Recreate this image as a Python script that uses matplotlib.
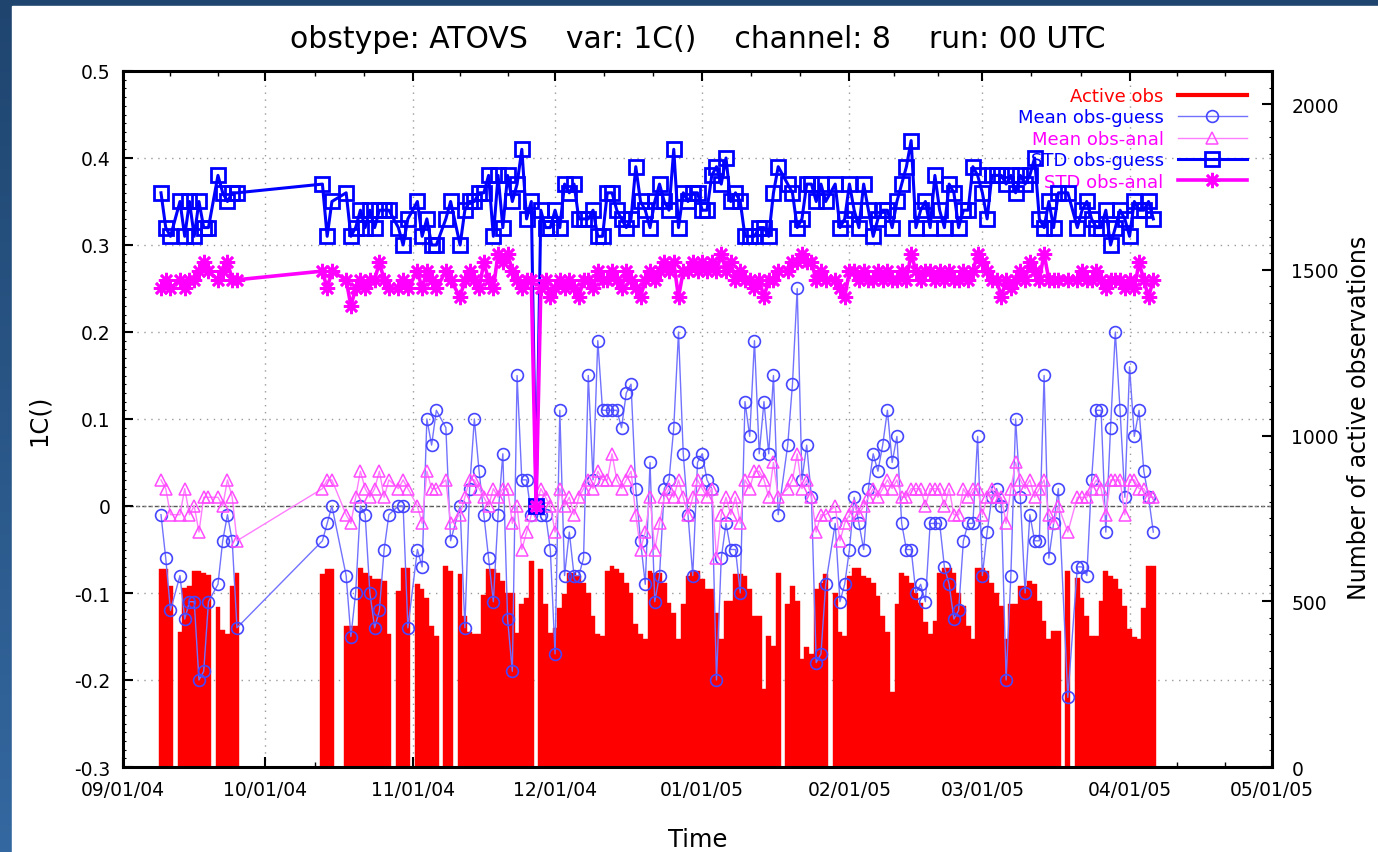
import numpy as np
import pandas as pd
import matplotlib
matplotlib.use('Agg')
import matplotlib.pyplot as plt
import matplotlib.dates as mdates
from matplotlib.colors import LinearSegmentedColormap
from matplotlib.lines import Line2D
from matplotlib.patches import Rectangle
from matplotlib.ticker import FixedLocator, FuncFormatter, MultipleLocator

nan = float('nan')

# one value per day, starting 2004-09-09 (nan = no data that day)
first_day = '2004-09-09'

active_obs = [
    596, 596, 546, nan, 406, 540, 546, 590, 590, 585,
    580, nan, 482, 412, 402, 546, 585, nan, nan, nan,
    nan, nan, nan, nan, nan, nan, nan, nan, nan, nan,
    nan, nan, nan, nan, 581, 596, 596, nan, nan, 426,
    426, 426, 601, 586, 576, 566, 566, 561, 401, nan,
    531, 600, 601, nan, 551, 536, 511, 426, 396, nan,
    606, 591, nan, 581, 456, 406, 401, 401, 520, 596,
    596, 586, 561, 526, 526, 404, 491, 511, 621, nan,
    596, 491, 404, 420, 480, 521, 586, 586, 576, 556,
    526, 456, 401, 396, 591, 606, 596, 586, 556, 526,
    431, 401, 386, 591, 586, 586, 556, 496, 466, 386,
    491, 576, 591, 591, 566, 536, 536, 466, 386, 501,
    501, 581, 581, 576, 536, 456, 456, 235, 396, 366,
    586, nan, 491, 546, 501, 326, 361, 341, 536, 556,
    581, nan, 526, 406, 396, 576, 601, 601, 576, 571,
    556, 516, 456, 406, 226, 491, 586, 576, 556, 526,
    496, 436, 401, 440, 586, 601, 601, 586, 526, 486,
    426, 386, 601, 601, 591, 556, 526, 486, 386, 491,
    491, 546, 546, 561, 551, 501, 441, 386, 411, 411,
    nan, 591, nan, 571, 511, 456, 396, 396, 501, 591,
    576, 566, 536, 486, 416, 391, 386, 481, 606, 606,
]

mean_obs_guess = [
    -.01, -.06, -.12, nan, -.08, -.13, -.11, -.11, -.20, -.19,
    -.11, nan, -.09, -.04, -.01, -.04, -.14, nan, nan, nan,
    nan, nan, nan, nan, nan, nan, nan, nan, nan, nan,
    nan, nan, nan, nan, -.04, -.02, 0, nan, nan, -.08,
    -.15, -.10, 0, -.01, -.10, -.14, -.12, -.05, -.01, nan,
    0, 0, -.14, nan, -.05, -.07, .10, .07, .11, nan,
    .09, -.04, nan, 0, -.14, .02, .10, .04, -.01, -.06,
    -.11, -.01, .06, -.13, -.19, .15, .03, .03, -.01, 0,
    -.01, -.01, -.05, -.17, .11, -.08, -.03, -.08, -.08, -.06,
    .15, .03, .19, .11, .11, .11, .11, .09, .13, .14,
    .02, -.04, -.09, .05, -.11, -.08, .02, .03, .09, .20,
    .06, -.01, -.08, .05, .06, .03, .02, -.20, -.06, -.02,
    -.05, -.05, -.10, .12, .08, .19, .06, .12, .06, .15,
    -.01, nan, .07, .14, .25, .03, .07, .01, -.18, -.17,
    -.09, nan, -.02, -.11, -.09, -.05, .01, -.02, -.05, .02,
    .06, .04, .07, .11, .05, .08, -.02, -.05, -.05, -.10,
    -.09, -.11, -.02, -.02, -.02, -.07, -.09, -.13, -.12, -.04,
    -.02, -.02, .08, -.08, -.03, .01, .02, 0, -.20, -.08,
    .10, .01, -.10, -.01, -.04, -.04, .15, -.06, -.02, .02,
    nan, -.22, nan, -.07, -.07, -.08, .03, .11, .11, -.03,
    .09, .20, .11, .01, .16, .08, .11, .04, .01, -.03,
]

mean_obs_anal = [
    .03, .02, -.01, nan, -.01, .02, -.01, 0, -.03, .01,
    .01, nan, .01, 0, .03, .01, -.04, nan, nan, nan,
    nan, nan, nan, nan, nan, nan, nan, nan, nan, nan,
    nan, nan, nan, nan, .02, .03, .03, nan, nan, -.01,
    -.02, .01, .04, .02, .01, .02, .04, .01, .03, nan,
    .02, .03, .02, nan, 0, -.02, .04, .02, .02, nan,
    .03, -.02, nan, -.01, .01, .03, .03, .02, .01, 0,
    .02, .01, .02, .02, -.02, 0, -.05, -.03, -.01, 0,
    .02, .01, 0, -.03, .02, 0, .01, -.01, .01, .02,
    .03, .02, .04, .03, .03, .06, .03, .02, .03, .04,
    -.01, -.05, -.03, .01, -.05, -.02, .01, .02, .01, .03,
    .01, -.01, .01, .03, .02, .01, .02, -.06, -.01, .01,
    -.01, .01, -.02, .03, .02, .04, .04, .03, .01, .05,
    .01, nan, .02, .03, .06, .02, .03, .01, -.03, -.01,
    -.01, nan, 0, -.04, -.02, -.01, 0, -.01, 0, .01,
    .02, .01, .02, .03, .02, .03, .01, .01, .02, .02,
    .02, 0, .02, .02, .02, 0, .02, -.01, -.01, .02,
    .01, .02, .02, -.01, .01, .02, .01, .01, -.02, .02,
    .05, .03, .02, .03, .01, .02, .03, -.01, -.02, 0,
    nan, -.03, nan, .01, .01, .01, .02, .03, .02, -.01,
    .03, .03, .03, -.01, .03, .03, .02, .02, .01, .01,
]

std_obs_guess = [
    .36, .32, .31, nan, .35, .31, .35, .31, .35, .32,
    .32, nan, .38, .36, .35, .36, .36, nan, nan, nan,
    nan, nan, nan, nan, nan, nan, nan, nan, nan, nan,
    nan, nan, nan, nan, .37, .31, .35, nan, nan, .36,
    .31, .32, .34, .32, .34, .32, .34, .34, .34, nan,
    .32, .30, .33, nan, .35, .31, .33, .30, .30, nan,
    .33, .35, nan, .30, .34, .35, .35, .36, .36, .38,
    .31, .38, .32, .38, .35, .37, .41, .33, .35, 0,
    .34, .32, .32, .34, .32, .37, .36, .37, .33, .33,
    .33, .34, .31, .31, .36, .36, .34, .33, .32, .33,
    .39, .35, .34, .32, .35, .37, .35, .34, .41, .32,
    .36, .35, .36, .36, .34, .34, .38, .39, .37, .40,
    .35, .36, .35, .31, .31, .31, .32, .32, .31, .36,
    .39, nan, .37, .36, .32, .33, .37, .37, .35, .37,
    .35, nan, .37, .32, .33, .37, .34, .32, .37, .34,
    .31, .33, .34, .34, .32, .35, .37, .39, .42, .32,
    .34, .35, .32, .38, .34, .32, .37, .36, .32, .34,
    .34, .39, .38, .36, .33, .38, .38, .38, .37, .38,
    .36, .38, .37, .38, .40, .33, .32, .35, .32, .36,
    nan, .36, nan, .32, .34, .35, .33, .32, .32, .34,
    .30, .32, .34, .33, .31, .35, .34, .34, .35, .33,
]

std_obs_anal = [
    .25, .26, .25, nan, .26, .25, .26, .26, .27, .28,
    .27, nan, .26, .27, .28, .26, .26, nan, nan, nan,
    nan, nan, nan, nan, nan, nan, nan, nan, nan, nan,
    nan, nan, nan, nan, .27, .25, .27, nan, nan, .26,
    .23, .25, .26, .25, .26, .26, .28, .26, .25, nan,
    .25, .26, .25, nan, .27, .25, .27, .26, .25, nan,
    .27, .26, nan, .24, .26, .27, .26, .25, .28, .26,
    .25, .29, .28, .29, .27, .26, .25, .26, .26, 0,
    .25, .26, .24, .25, .26, .25, .26, .25, .24, .26,
    .26, .25, .27, .26, .26, .27, .26, .25, .27, .26,
    .25, .24, .26, .27, .26, .27, .28, .27, .28, .24,
    .27, .27, .28, .27, .28, .27, .28, .27, .29, .27,
    .28, .26, .27, .26, .26, .25, .26, .24, .26, .26,
    .27, nan, .27, .28, .28, .29, .28, .28, .26, .27,
    .26, nan, .26, .25, .24, .27, .27, .26, .27, .26,
    .26, .27, .26, .27, .26, .26, .27, .26, .29, .27,
    .26, .27, .27, .26, .27, .26, .27, .26, .26, .27,
    .26, .27, .29, .28, .27, .26, .26, .24, .26, .25,
    .26, .27, .26, .28, .27, .26, .29, .26, .26, .26,
    nan, .26, nan, .26, .27, .26, .26, .27, .26, .25,
    .26, .26, .26, .25, .26, .25, .28, .26, .24, .26,
]

title = 'obstype: ATOVS    var: 1C()    channel: 8    run: 00 UTC'


def main():
    days = pd.date_range(first_day, periods=len(active_obs), freq='D')
    x = mdates.date2num(days)
    months = mdates.date2num(pd.date_range('2004-09-01', '2005-05-01', freq='MS'))

    fig = plt.figure(figsize=(13.78, 8.53), dpi=100)

    # slide background + white panel
    bg = fig.add_axes([0, 0, 1, 1], zorder=-10)
    cmap = LinearSegmentedColormap.from_list('slide', ['#1f456f', '#3468a0'])
    bg.imshow(np.linspace(0, 1, 256).reshape(-1, 1), cmap=cmap, aspect='auto',
              extent=[0, 1, 0, 1], origin='upper')
    bg.add_patch(Rectangle((12 / 1378, 0), 1, 1 - 7 / 853, color='white'))
    bg.set_xlim(0, 1)
    bg.set_ylim(0, 1)
    bg.axis('off')

    rect = [123 / 1378, 1 - 768 / 853, 1149 / 1378, 696 / 853]
    ax = fig.add_axes(rect)          # grid, left scale, dates
    ax_bar = ax.twinx()              # active obs (right scale)
    ax_line = ax.twinx()             # statistics (left scale)

    ax.set_xlim(months[0], months[-1])
    ax.set_ylim(-0.3, 0.5)
    ax_line.set_ylim(-0.3, 0.5)
    ax_bar.set_ylim(0, 2100)

    # bars
    ax_bar.bar(x, active_obs, width=1.0, color='#ff0000', edgecolor='#ff0000',
               linewidth=0.3)

    # lines (skip days without data, so the line joins across gaps)
    def pts(vals):
        v = np.array(vals, dtype=float)
        m = ~np.isnan(v)
        return x[m], v[m]

    l_mg, = ax_line.plot(*pts(mean_obs_guess), color='#7272ff', lw=1.0,
                         marker='o', ms=8.5, mfc='none', mec='#4646ff', mew=1.2)
    l_ma, = ax_line.plot(*pts(mean_obs_anal), color='#ff7dff', lw=1.0,
                         marker='^', ms=8, mfc='none', mec='#ff4cff', mew=1.1)
    l_sg, = ax_line.plot(*pts(std_obs_guess), color='#0000ff', lw=2.2,
                         marker='s', ms=9.5, mfc='none', mec='#0000ff', mew=2)
    l_sa, = ax_line.plot(*pts(std_obs_anal), color='#ff00ff', lw=2.6,
                         marker=(8, 2, 0), ms=11, mec='#ff00ff', mew=1.9)

    ax.axhline(0, color='#555555', lw=1, ls=(0, (3, 1.5)), zorder=1)
    ax.grid(True, which='major', color='#9a9a9a', lw=1, ls=(0, (1, 4)))

    # ticks
    ax.xaxis.set_major_locator(mdates.MonthLocator())
    ax.xaxis.set_major_formatter(mdates.DateFormatter('%m/%d/%y'))
    minor = [a + (b - a) * f for a, b in zip(months[:-1], months[1:])
             for f in (1 / 3, 2 / 3)]
    ax.xaxis.set_minor_locator(FixedLocator(minor))
    ax.yaxis.set_major_locator(FixedLocator(np.round(np.arange(-0.3, 0.51, 0.1), 1)))
    ax.yaxis.set_major_formatter(FuncFormatter(lambda v, p: f'{round(v, 1) + 0:g}'))
    ax.yaxis.set_minor_locator(MultipleLocator(0.01))
    ax.tick_params(which='major', direction='in', length=7, width=1.5,
                   labelsize=13.5, top=True, right=False, pad=9)
    ax.tick_params(which='minor', direction='in', length=3.5, width=1,
                   top=True, right=False)
    ax.tick_params(axis='y', which='minor', length=2, width=0.8)

    ax_bar.yaxis.set_major_locator(FixedLocator([0, 500, 1000, 1500, 2000]))
    ax_bar.yaxis.set_minor_locator(MultipleLocator(50))
    ax_bar.tick_params(axis='y', which='major', direction='in', length=7,
                       width=1.5, labelsize=13.5, pad=14)
    ax_bar.tick_params(axis='y', which='minor', direction='in', length=2,
                       width=0.8)
    ax_line.yaxis.set_visible(False)

    for s in ax.spines.values():
        s.set_visible(False)
    for s in ax_bar.spines.values():
        s.set_visible(False)
    for s in ax_line.spines.values():
        s.set_linewidth(2.2)

    # labels
    ax.set_xlabel('Time', fontsize=17.5)
    ax.xaxis.set_label_coords(0.5, -0.086)
    ax.set_ylabel('1C()', fontsize=17.5)
    ax.yaxis.set_label_coords(-0.063, 0.5)
    ax_bar.set_ylabel('Number of active observations', fontsize=17)
    ax_bar.yaxis.set_label_coords(1.065, 0.503)
    fig.text(0.506, 1 - 40 / 853, title, ha='center', va='center', fontsize=21.5)

    # legend: text first, right aligned, coloured like the series
    handles = [Line2D([], [], color='#ff0000', lw=3), l_mg, l_ma, l_sg, l_sa]
    labels = ['Active obs', 'Mean obs-guess', 'Mean obs-anal',
              'STD obs-guess', 'STD obs-anal']
    leg = ax_line.legend(handles, labels, loc='upper right',
                         bbox_to_anchor=(0.978, 0.977), frameon=False,
                         markerfirst=False, handlelength=3.8, handletextpad=0.8,
                         labelspacing=0.19, fontsize=13, borderaxespad=0,
                         borderpad=0, numpoints=1,
                         labelcolor=['#ff0000', '#0000ff', '#ff00ff',
                                     '#0000ff', '#ff00ff'])
    leg.set_zorder(1)

    fig.savefig('out.png', dpi=100)


if __name__ == '__main__':
    main()
